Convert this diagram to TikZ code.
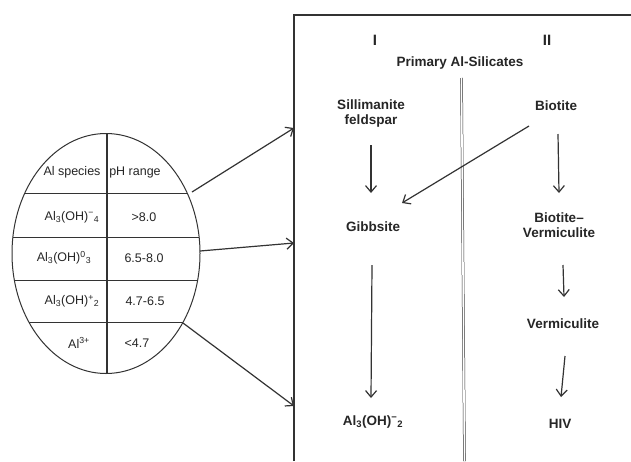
\documentclass[tikz,border=0pt]{standalone}
\usepackage{fontspec}
\setmainfont{Liberation Sans}
\usetikzlibrary{arrows.meta,calc,shapes.geometric}
\definecolor{ink}{HTML}{333333}
\begin{document}
\begin{tikzpicture}[x=1pt,y=-1pt,
  ln/.style={draw=ink,line width=1.2pt},
  arr/.style={draw=ink,line width=1.2pt,-{Straight Barb[length=6.5pt,width=11pt]}},
  lbl/.style={inner sep=0pt,font=\fontsize{13.5}{15}\selectfont\bfseries,align=center,text=black!85},
  col/.style={inner sep=0pt,font=\fontsize{15}{17}\selectfont\bfseries,text=black!85},
  tt/.style={inner sep=0pt,font=\fontsize{12.5}{14}\selectfont,text=black!85}]
\useasboundingbox (0,0) rectangle (631,461);
\fill[white] (0,0) rectangle (631,461);
% ellipse table
\node[ellipse,draw=ink,line width=1pt,minimum width=188pt,minimum height=240pt,inner sep=0pt] (tab) at (106,253.5) {};
\begin{scope}
\clip (106,253.5) ellipse [x radius=94pt,y radius=120pt];
\foreach \yy in {193,237,280,322} \draw[ln,line width=1pt] (0,\yy) -- (220,\yy);
\draw[ln,line width=1.2pt] (107,120) -- (107,390);
\end{scope}
\node[tt] (h1) at (72,172) {Al species};
\node[tt] (h2) at (135,172) {pH range};
\node[tt] (a1) at (72,217) {Al\textsubscript{3}(OH)\textsuperscript{−}\textsubscript{4}};
\node[tt] (b1) at (144,217) {>8.0};
\node[tt] (a2) at (64,258) {Al\textsubscript{3}(OH)\textsuperscript{0}\textsubscript{3}};
\node[tt] (b2) at (144,258) {6.5-8.0};
\node[tt] (a3) at (72,301) {Al\textsubscript{3}(OH)\textsuperscript{+}\textsubscript{2}};
\node[tt] (b3) at (145,301) {4.7-6.5};
\node[tt] (a4) at (79,343) {Al\textsuperscript{3+}};
\node[tt] (b4) at (137,343) {<4.7};
% box
\draw[ln] (294,461) -- (294,15) -- (631,15);
\draw[draw=ink,line width=0.5pt,double=white,double distance=1.6pt] (461.5,78) -- (464.5,461);
% column labels
\node[col] (c1) at (375,40) {I};
\node[col] (c2) at (547,40) {II};
\node[lbl] (prim) at (460,63) {Primary Al-Silicates};
\node[lbl] (sil) at (371,114) {Sillimanite\\feldspar};
\node[lbl] (bio) at (556,106) {Biotite};
\node[lbl] (gib) at (373,227) {Gibbsite};
\node[lbl] (bv) at (559,225) {Biotite–\\Vermiculite};
\node[lbl] (verm) at (563,324) {Vermiculite};
\node[lbl] (hiv) at (560,424) {HIV};
\node[lbl] (al) at (373,422) {Al\textsubscript{3}(OH)\textsuperscript{−}\textsubscript{2}};
% arrows in box
\draw[arr] ($(sil)+(0,31)$) -- ($(gib)+(-2,-34)$);
\draw[arr] ($(bio)+(-27,20)$) -- ($(gib)+(29,-24)$);
\draw[arr] ($(bio)+(2,28)$) -- ($(bv)+(0,-32)$);
\draw[arr] ($(bv)+(4,40)$) -- ($(verm)+(1,-27)$);
\draw[arr] ($(verm)+(2,32)$) -- ($(hiv)+(1,-27)$);
\draw[arr] ($(gib)+(-1,38)$) -- ($(al)+(-2,-24)$);
% arrows from ellipse
\coordinate (t1) at (294,128);
\coordinate (t2) at (294,243);
\coordinate (t3) at (294,406);
\draw[arr] ($(tab)+(86,-61.5)$) -- (t1);
\draw[arr] ($(tab)+(94,-2.5)$) -- (t2);
\draw[arr] ($(tab)+(77,69.5)$) -- (t3);
\end{tikzpicture}
\end{document}
